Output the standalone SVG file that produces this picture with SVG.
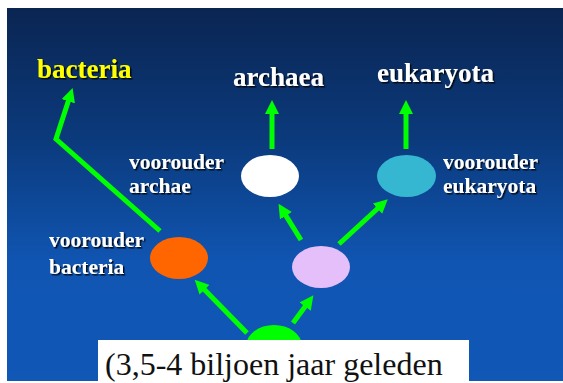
<svg xmlns="http://www.w3.org/2000/svg" width="563" height="383" viewBox="0 0 563 383">
  <defs>
    <linearGradient id="bg" x1="0" y1="0" x2="0" y2="1">
      <stop offset="0" stop-color="#0a2552"/>
      <stop offset="0.35" stop-color="#0b3a7c"/>
      <stop offset="0.68" stop-color="#1055b2"/>
      <stop offset="1" stop-color="#1057b6"/>
    </linearGradient>
    <filter id="sh" x="-10%" y="-20%" width="130%" height="150%">
      <feDropShadow dx="1.5" dy="1.5" stdDeviation="0.4" flood-color="#000" flood-opacity="0.85"/>
    </filter>
    <marker id="ah" markerUnits="userSpaceOnUse" viewBox="0 0 14 14" markerWidth="14" markerHeight="14" refX="1" refY="7" orient="auto">
      <path d="M0,0 L14,7 L0,14 z" fill="#00ff00"/>
    </marker>
  </defs>
  <style>
    .big { font-family: "Liberation Serif", "Times New Roman", serif; font-weight: bold; font-size: 27px; filter: url(#sh); }
    .lbl { font-family: "Liberation Serif", "Times New Roman", serif; font-weight: bold; font-size: 21.5px; fill: #ffffff; filter: url(#sh); }
    .time { font-family: "Liberation Serif", "Times New Roman", serif; font-weight: normal; font-size: 32px; fill: #111111; }
    .conn { fill: none; stroke: #00ff00; stroke-width: 5; marker-end: url(#ah); }
  </style>
  <rect x="7" y="8" width="556" height="373" fill="url(#bg)"/>

  <g id="connectors">
    <path class="conn" d="M160,231 L56,139 L68.6,100.3"/>
    <path class="conn" d="M272,149 L272,113"/>
    <path class="conn" d="M406,149 L406,113"/>
    <path class="conn" d="M301,240 L285.4,214.9"/>
    <path class="conn" d="M339,244 L378.2,208"/>
    <path class="conn" d="M293,323 L305.7,305.8"/>
    <path class="conn" d="M247,333 L203.8,289"/>
  </g>

  <g id="bacteria">
    <text class="big" x="37" y="78" fill="#ffff00">bacteria</text>
  </g>
  <g id="archaea">
    <text class="big" x="233" y="86" fill="#ffffff">archaea</text>
  </g>
  <g id="eukaryota">
    <text class="big" x="377" y="82" fill="#ffffff">eukaryota</text>
  </g>

  <g id="voorouder-archae">
    <ellipse cx="270" cy="176" rx="29" ry="21" fill="#ffffff"/>
    <text class="lbl" x="129" y="169">voorouder</text>
    <text class="lbl" x="129" y="193">archae</text>
  </g>
  <g id="voorouder-eukaryota">
    <ellipse cx="406.5" cy="176" rx="29.5" ry="21" fill="#36b7d1"/>
    <text class="lbl" x="443" y="169">voorouder</text>
    <text class="lbl" x="443" y="193">eukaryota</text>
  </g>
  <g id="voorouder-bacteria">
    <ellipse cx="179" cy="258" rx="29" ry="21" fill="#ff6600"/>
    <text class="lbl" x="49" y="247">voorouder</text>
    <text class="lbl" x="49" y="274">bacteria</text>
  </g>
  <g id="gemeenschappelijke-voorouder">
    <ellipse cx="321" cy="267" rx="29" ry="21" fill="#e4bffa"/>
  </g>
  <g id="oorsprong">
    <ellipse cx="274" cy="346" rx="28" ry="21" fill="#00ff00"/>
  </g>

  <g id="tijdlabel">
    <rect x="98" y="340" width="371" height="43" fill="#ffffff"/>
    <text class="time" x="105" y="375">(3,5-4 biljoen jaar geleden</text>
  </g>
</svg>
